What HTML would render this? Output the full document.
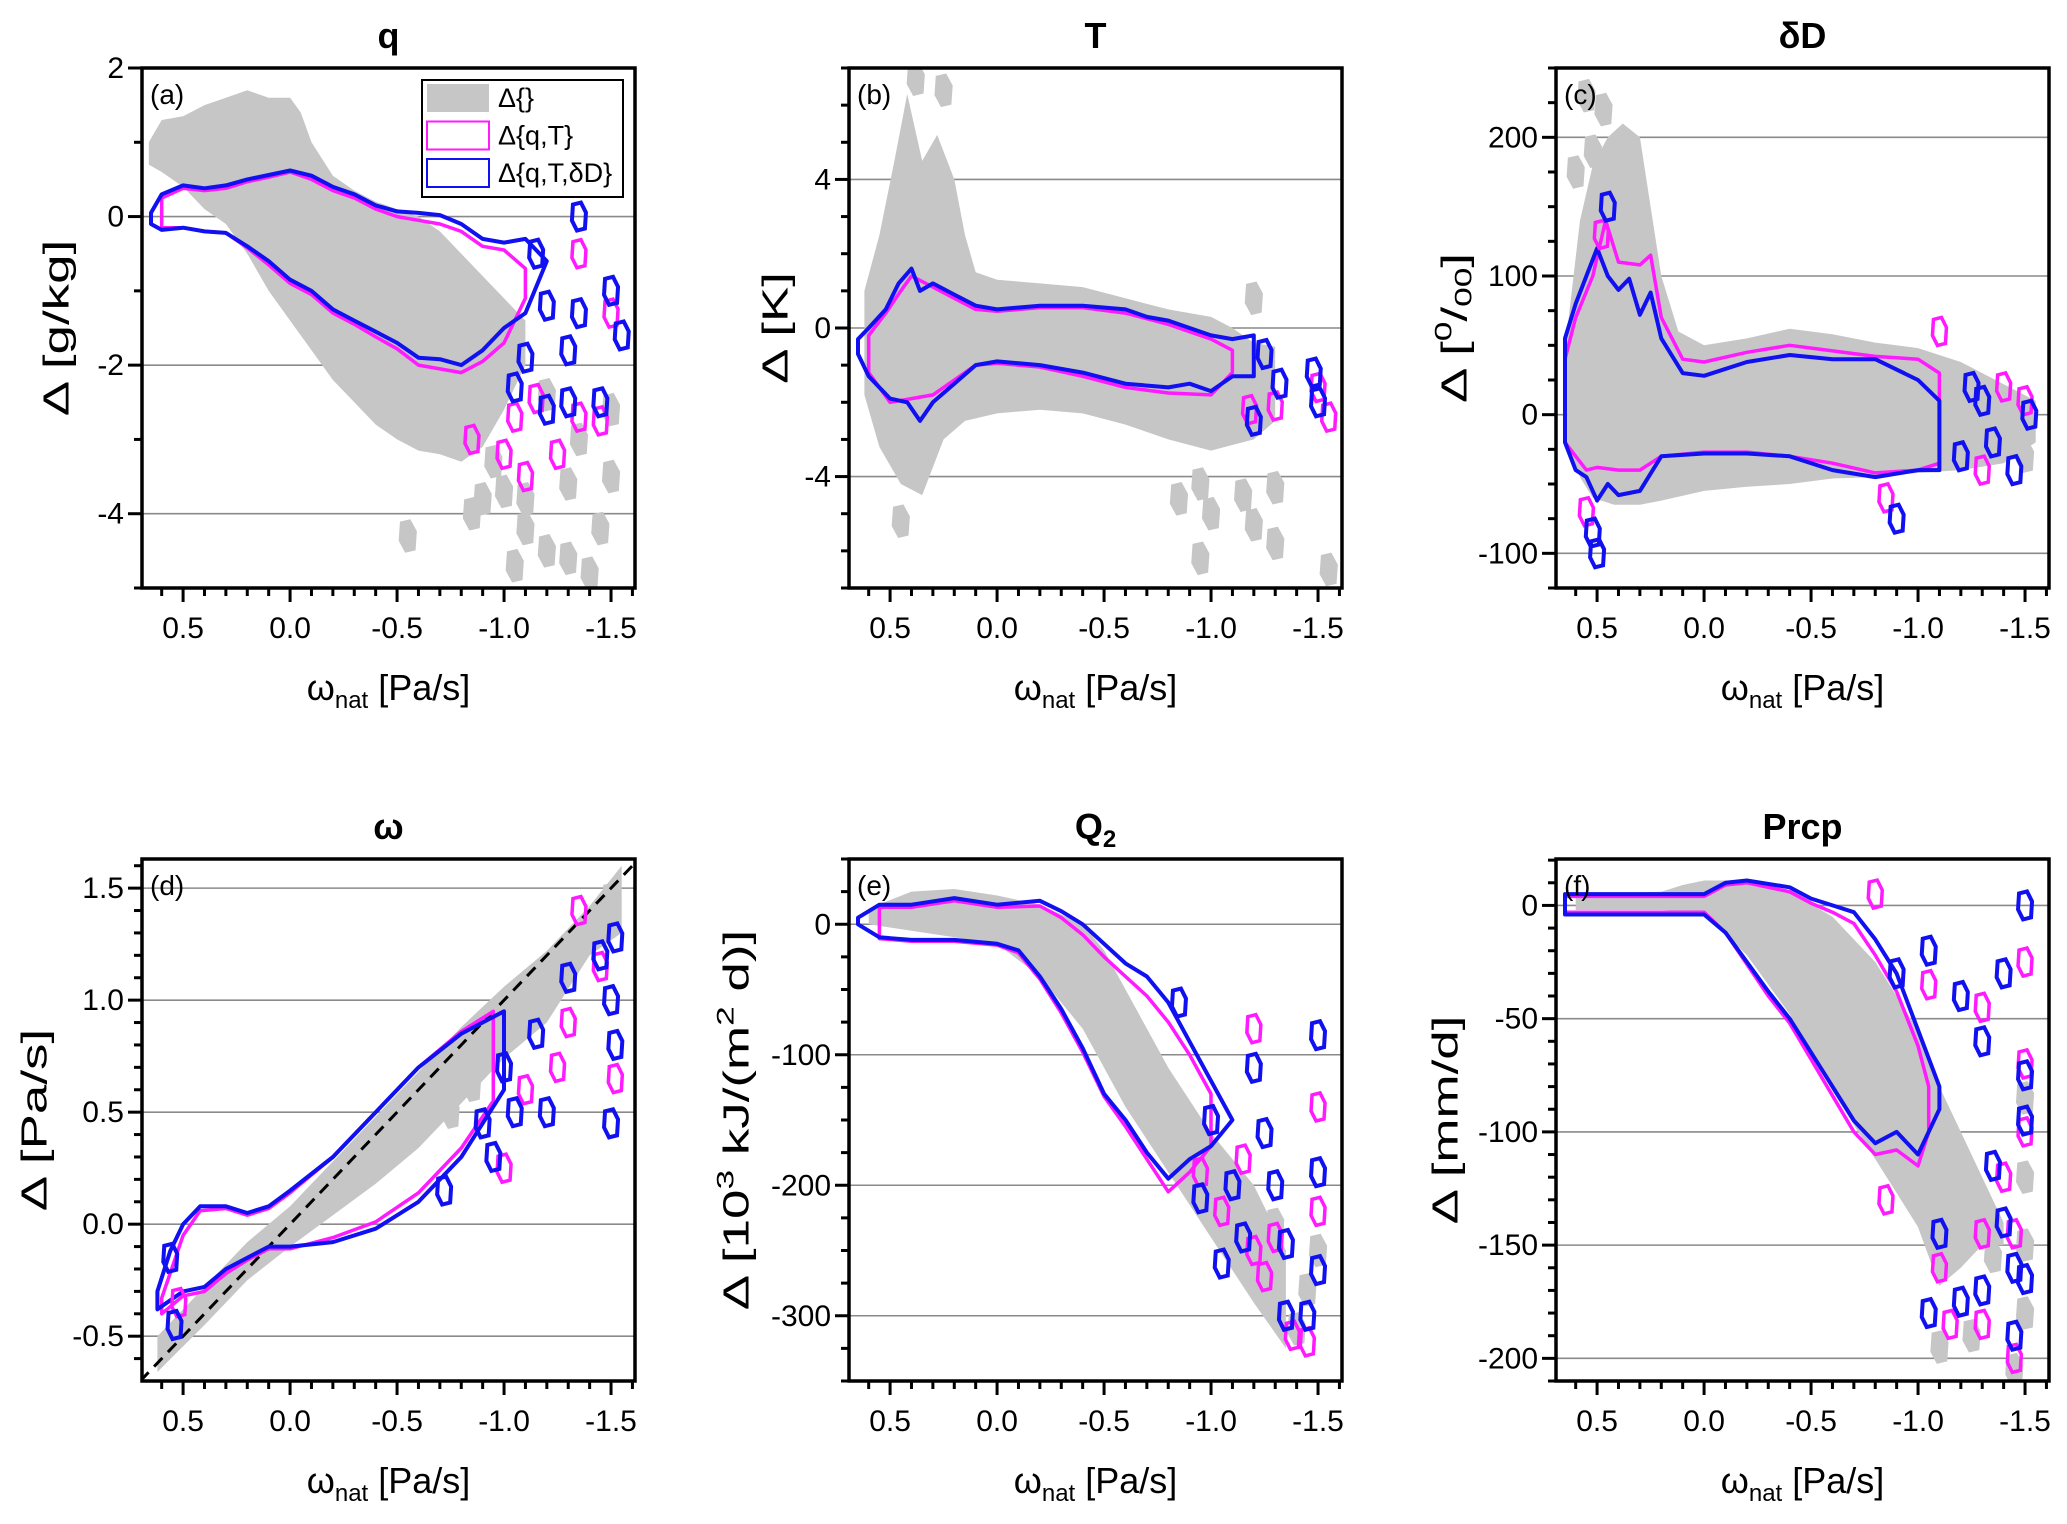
<!DOCTYPE html>
<html><head><meta charset="utf-8"><style>
html,body{margin:0;padding:0;background:#fff;}
svg{display:block;font-family:"Liberation Sans",Arial,sans-serif;}
</style></head><body>
<svg id="fig" width="2067" height="1524" viewBox="0 0 2067 1524" xmlns="http://www.w3.org/2000/svg"></svg>
<script>
// ---------------- data (omega_nat [Pa/s], delta) ----------------
// panel a: q
const qGrayUp=[[0.66,1.0],[0.6,1.3],[0.5,1.35],[0.4,1.5],[0.3,1.6],[0.2,1.7],[0.1,1.6],[0.0,1.6],[-0.05,1.4],[-0.1,1.0],[-0.2,0.55],[-0.3,0.35],[-0.4,0.2],[-0.5,0.1],[-0.6,0.0],[-0.7,-0.2],[-0.8,-0.5],[-0.9,-0.8],[-1.0,-1.1],[-1.1,-1.4]];
const qGrayLo=[[0.66,0.7],[0.6,0.6],[0.5,0.4],[0.4,0.1],[0.3,-0.1],[0.2,-0.5],[0.1,-1.0],[0.0,-1.4],[-0.1,-1.8],[-0.2,-2.2],[-0.3,-2.5],[-0.4,-2.8],[-0.5,-3.0],[-0.6,-3.15],[-0.7,-3.2],[-0.8,-3.3],[-0.9,-3.1],[-1.0,-2.6],[-1.1,-2.0]];
const qBlueUp=[[0.65,0.05],[0.6,0.3],[0.5,0.42],[0.4,0.38],[0.3,0.42],[0.2,0.5],[0.1,0.56],[0.0,0.62],[-0.1,0.55],[-0.2,0.4],[-0.3,0.3],[-0.4,0.15],[-0.5,0.07],[-0.6,0.05],[-0.7,0.02],[-0.8,-0.1],[-0.9,-0.3],[-1.0,-0.35],[-1.1,-0.3],[-1.2,-0.6]];
const qBlueLo=[[0.65,-0.1],[0.6,-0.18],[0.5,-0.15],[0.4,-0.2],[0.3,-0.22],[0.2,-0.4],[0.1,-0.6],[0.0,-0.85],[-0.1,-1.0],[-0.2,-1.25],[-0.3,-1.4],[-0.4,-1.55],[-0.5,-1.7],[-0.6,-1.9],[-0.7,-1.92],[-0.8,-2.0],[-0.9,-1.8],[-1.0,-1.5],[-1.1,-1.3],[-1.2,-0.6]];
const qMagUp=[[0.6,0.25],[0.5,0.38],[0.4,0.35],[0.3,0.38],[0.2,0.47],[0.1,0.53],[0.0,0.6],[-0.1,0.5],[-0.2,0.35],[-0.3,0.25],[-0.4,0.1],[-0.5,0.0],[-0.6,-0.05],[-0.7,-0.1],[-0.8,-0.2],[-0.9,-0.4],[-1.0,-0.45],[-1.1,-0.7]];
const qMagLo=[[0.6,-0.15],[0.5,-0.15],[0.4,-0.2],[0.3,-0.22],[0.2,-0.42],[0.1,-0.65],[0.0,-0.9],[-0.1,-1.05],[-0.2,-1.3],[-0.3,-1.45],[-0.4,-1.62],[-0.5,-1.78],[-0.6,-2.0],[-0.7,-2.05],[-0.8,-2.1],[-0.9,-1.95],[-1.0,-1.7],[-1.1,-1.1]];
const qGrayBlobs=[[-1.0,-3.7],[-1.1,-4.2],[-1.2,-4.5],[-1.3,-4.6],[-1.45,-4.2],[-1.5,-3.5],[-1.1,-3.8],[-0.9,-3.8],[-1.35,-3.0],[-1.5,-2.6],[-1.2,-2.4],[-0.85,-4.0],[-0.55,-4.3],[-1.05,-4.7],[-1.4,-4.8],[-1.3,-3.6],[-0.95,-3.3]];
const qBlueBlobs=[[-1.1,-1.9],[-1.05,-2.3],[-1.2,-2.6],[-1.3,-2.5],[-1.45,-2.5],[-1.35,-1.3],[-1.5,-1.0],[-1.55,-1.6],[-1.3,-1.8],[-1.2,-1.2],[-1.35,0.0],[-1.15,-0.5]];
const qMagBlobs=[[-1.0,-3.2],[-1.1,-3.5],[-1.25,-3.2],[-1.35,-2.7],[-1.45,-2.75],[-1.5,-1.3],[-1.15,-2.45],[-0.85,-3.0],[-1.35,-0.5],[-1.05,-2.7]];
// panel b: T
const tGrayUp=[[0.62,1.0],[0.55,2.5],[0.48,4.5],[0.42,6.3],[0.35,4.5],[0.28,5.2],[0.2,4.0],[0.15,2.5],[0.1,1.5],[0.0,1.3],[-0.2,1.2],[-0.4,1.1],[-0.6,0.8],[-0.8,0.5],[-1.0,0.3],[-1.1,0.0],[-1.2,-0.4],[-1.3,-0.5]];
const tGrayLo=[[0.62,-1.8],[0.55,-3.2],[0.45,-4.2],[0.35,-4.5],[0.25,-3.0],[0.15,-2.5],[0.0,-2.3],[-0.2,-2.2],[-0.4,-2.3],[-0.6,-2.6],[-0.8,-3.0],[-1.0,-3.3],[-1.2,-3.0],[-1.3,-2.5]];
const tBlueUp=[[0.65,-0.3],[0.6,0.0],[0.52,0.5],[0.46,1.2],[0.4,1.6],[0.36,1.0],[0.3,1.2],[0.2,0.9],[0.1,0.6],[0.0,0.5],[-0.2,0.6],[-0.4,0.6],[-0.6,0.5],[-0.7,0.3],[-0.8,0.2],[-0.9,0.0],[-1.0,-0.2],[-1.1,-0.3],[-1.2,-0.2]];
const tBlueLo=[[0.65,-0.7],[0.6,-1.3],[0.5,-1.9],[0.42,-2.0],[0.36,-2.5],[0.3,-2.0],[0.2,-1.5],[0.1,-1.0],[0.0,-0.9],[-0.2,-1.0],[-0.4,-1.2],[-0.6,-1.5],[-0.8,-1.6],[-0.9,-1.5],[-1.0,-1.7],[-1.1,-1.3],[-1.2,-1.3]];
const tMagUp=[[0.6,-0.2],[0.52,0.4],[0.45,1.0],[0.4,1.4],[0.3,1.1],[0.2,0.8],[0.1,0.5],[0.0,0.45],[-0.2,0.55],[-0.4,0.55],[-0.6,0.4],[-0.8,0.1],[-0.9,-0.1],[-1.0,-0.3],[-1.1,-0.6]];
const tMagLo=[[0.6,-1.2],[0.5,-2.0],[0.4,-1.9],[0.3,-1.8],[0.2,-1.4],[0.1,-1.0],[0.0,-0.95],[-0.2,-1.05],[-0.4,-1.3],[-0.6,-1.6],[-0.8,-1.75],[-1.0,-1.8],[-1.1,-1.2]];
const tGrayBlobs=[[-1.15,-4.5],[-1.2,-5.3],[-1.3,-5.8],[-1.55,-6.5],[-1.0,-5.0],[-0.95,-4.2],[-1.3,-4.3],[-1.2,0.8],[0.38,6.7],[0.25,6.4],[-0.95,-6.2],[0.45,-5.2],[-0.85,-4.6]];
const tBlueBlobs=[[-1.2,-2.5],[-1.32,-1.5],[-1.5,-2.0],[-1.25,-0.7],[-1.48,-1.2]];
const tMagBlobs=[[-1.3,-2.1],[-1.55,-2.4],[-1.18,-2.2],[-1.5,-1.6]];
// panel c: dD
const cGrayUp=[[0.64,60],[0.58,140],[0.52,180],[0.45,200],[0.38,210],[0.3,200],[0.25,150],[0.2,100],[0.12,60],[0.0,50],[-0.2,55],[-0.4,62],[-0.6,58],[-0.8,52],[-1.0,48],[-1.2,38],[-1.4,22],[-1.55,10]];
const cGrayLo=[[0.64,-20],[0.58,-45],[0.52,-60],[0.42,-65],[0.3,-65],[0.2,-62],[0.0,-55],[-0.2,-52],[-0.4,-50],[-0.6,-46],[-0.8,-45],[-1.0,-42],[-1.2,-40],[-1.4,-35],[-1.55,-20]];
const cBlueUp=[[0.65,55],[0.6,80],[0.55,100],[0.5,120],[0.45,100],[0.4,90],[0.35,98],[0.3,72],[0.25,88],[0.2,55],[0.1,30],[0.0,28],[-0.2,38],[-0.4,43],[-0.6,40],[-0.8,40],[-1.0,25],[-1.1,10]];
const cBlueLo=[[0.65,-20],[0.6,-40],[0.55,-45],[0.5,-62],[0.45,-50],[0.4,-58],[0.3,-55],[0.2,-30],[0.0,-28],[-0.2,-28],[-0.4,-30],[-0.6,-40],[-0.8,-45],[-1.0,-40],[-1.1,-40]];
const cMagUp=[[0.65,40],[0.6,70],[0.52,100],[0.46,140],[0.4,110],[0.3,108],[0.25,115],[0.2,70],[0.1,40],[0.0,38],[-0.2,45],[-0.4,50],[-0.6,46],[-0.8,42],[-1.0,40],[-1.1,30]];
const cMagLo=[[0.65,-20],[0.55,-40],[0.5,-38],[0.4,-40],[0.3,-40],[0.2,-30],[0.0,-27],[-0.2,-27],[-0.4,-30],[-0.6,-35],[-0.8,-42],[-1.0,-40],[-1.1,-35]];
const cGrayBlobs=[[0.55,230],[0.47,220],[0.52,190],[0.6,175],[-1.5,-30]];
const cBlueBlobs=[[0.45,150],[0.52,-85],[0.5,-100],[-1.35,-20],[-1.2,-30],[-1.3,10],[-1.52,0],[-1.45,-40],[-0.9,-75],[-1.25,20]];
const cMagBlobs=[[0.48,130],[0.55,-70],[-1.4,20],[-1.5,10],[-0.85,-60],[-1.1,60],[-1.3,-40]];
// panel d: omega
const dGrayUp=[[0.62,-0.5],[0.4,-0.28],[0.2,-0.08],[0.0,0.08],[-0.2,0.28],[-0.4,0.48],[-0.6,0.68],[-0.8,0.88],[-1.0,1.06],[-1.2,1.22],[-1.4,1.42],[-1.55,1.6]];
const dGrayLo=[[0.62,-0.66],[0.4,-0.45],[0.2,-0.25],[0.0,-0.1],[-0.2,0.04],[-0.4,0.18],[-0.6,0.34],[-0.8,0.54],[-1.0,0.74],[-1.2,0.9],[-1.4,1.2],[-1.55,1.3]];
const dBlueUp=[[0.62,-0.3],[0.56,-0.12],[0.5,0.0],[0.42,0.08],[0.3,0.08],[0.2,0.05],[0.1,0.08],[0.0,0.15],[-0.2,0.3],[-0.4,0.5],[-0.6,0.7],[-0.8,0.85],[-0.9,0.9],[-1.0,0.95]];
const dBlueLo=[[0.62,-0.38],[0.5,-0.3],[0.4,-0.28],[0.3,-0.2],[0.2,-0.15],[0.1,-0.1],[0.0,-0.1],[-0.2,-0.08],[-0.4,-0.02],[-0.6,0.1],[-0.8,0.3],[-0.9,0.45],[-1.0,0.6]];
const dMagUp=[[0.6,-0.33],[0.5,-0.05],[0.42,0.06],[0.3,0.07],[0.2,0.04],[0.1,0.07],[0.0,0.14],[-0.2,0.3],[-0.4,0.5],[-0.6,0.7],[-0.8,0.86],[-0.95,0.95]];
const dMagLo=[[0.6,-0.4],[0.5,-0.32],[0.4,-0.3],[0.3,-0.22],[0.2,-0.16],[0.1,-0.11],[0.0,-0.11],[-0.2,-0.06],[-0.4,0.01],[-0.6,0.14],[-0.8,0.34],[-0.95,0.55]];
const dGrayBlobs=[[-0.75,0.5],[-0.85,0.62],[-1.5,1.45]];
const dBlueBlobs=[[-1.0,0.7],[-0.9,0.45],[-1.05,0.5],[-1.15,0.85],[-1.3,1.1],[-1.45,1.2],[-1.52,1.28],[-1.5,1.0],[-1.52,0.8],[-1.5,0.45],[0.56,-0.15],[0.54,-0.45],[-0.72,0.15],[-1.2,0.5],[-0.95,0.3]];
const dMagBlobs=[[-1.35,1.4],[-1.1,0.6],[-1.25,0.7],[-1.52,0.65],[-1.45,1.15],[0.52,-0.35],[-1.0,0.25],[-1.3,0.9]];
// panel e: Q2
const eGrayUp=[[0.6,12],[0.4,25],[0.2,27],[0.0,22],[-0.2,15],[-0.4,0],[-0.5,-20],[-0.6,-50],[-0.8,-110],[-1.0,-160],[-1.2,-200],[-1.35,-250]];
const eGrayLo=[[0.6,0],[0.4,-5],[0.2,-10],[0.0,-15],[-0.2,-40],[-0.4,-80],[-0.5,-110],[-0.6,-140],[-0.8,-190],[-1.0,-240],[-1.2,-290],[-1.35,-325]];
const eBlueUp=[[0.65,5],[0.55,15],[0.4,15],[0.2,20],[0.0,15],[-0.2,18],[-0.3,10],[-0.4,0],[-0.5,-15],[-0.6,-30],[-0.7,-40],[-0.8,-60],[-0.9,-90],[-1.0,-120],[-1.1,-150]];
const eBlueLo=[[0.65,0],[0.55,-10],[0.4,-12],[0.2,-12],[0.0,-15],[-0.1,-20],[-0.2,-40],[-0.3,-65],[-0.4,-95],[-0.5,-130],[-0.6,-150],[-0.7,-175],[-0.8,-195],[-0.9,-180],[-1.0,-170],[-1.1,-150]];
const eMagUp=[[0.55,13],[0.4,13],[0.2,18],[0.0,13],[-0.2,14],[-0.3,5],[-0.4,-8],[-0.5,-25],[-0.6,-40],[-0.7,-55],[-0.8,-75],[-0.9,-100],[-1.0,-130]];
const eMagLo=[[0.55,-11],[0.4,-13],[0.2,-13],[0.0,-16],[-0.1,-22],[-0.2,-42],[-0.3,-68],[-0.4,-98],[-0.5,-132],[-0.6,-155],[-0.7,-180],[-0.8,-205],[-0.9,-190],[-1.0,-170]];
const eGrayBlobs=[[-1.45,-280],[-1.5,-250],[-1.3,-230],[-1.4,-310]];
const eBlueBlobs=[[-1.0,-150],[-1.1,-200],[-1.15,-240],[-1.25,-160],[-1.3,-200],[-1.5,-190],[-1.5,-265],[-1.45,-300],[-1.35,-300],[-0.95,-210],[-1.2,-110],[-1.5,-85],[-1.35,-245],[-0.85,-60],[-1.05,-260]];
const eMagBlobs=[[-1.05,-220],[-1.2,-250],[-1.3,-240],[-1.25,-270],[-1.38,-315],[-1.45,-320],[-1.5,-220],[-1.5,-140],[-1.2,-80],[-1.15,-180],[-0.95,-190]];
// panel f: Prcp
const fGrayUp=[[0.6,5],[0.2,6],[0.1,9],[0.0,11],[-0.2,11],[-0.4,6],[-0.6,-5],[-0.8,-25],[-1.0,-55],[-1.1,-80],[-1.2,-100],[-1.3,-120],[-1.4,-140]];
const fGrayLo=[[0.6,-2],[0.2,-2],[0.0,-3],[-0.2,-22],[-0.4,-48],[-0.6,-82],[-0.8,-112],[-1.0,-142],[-1.1,-168],[-1.2,-160],[-1.3,-150],[-1.4,-150]];
const fBlueUp=[[0.65,5],[0.0,5],[-0.1,10],[-0.2,11],[-0.4,8],[-0.5,3],[-0.6,0],[-0.7,-3],[-0.8,-15],[-0.9,-30],[-1.0,-55],[-1.1,-80]];
const fBlueLo=[[0.65,-4],[0.0,-4],[-0.1,-12],[-0.2,-25],[-0.3,-38],[-0.4,-50],[-0.5,-65],[-0.6,-80],[-0.7,-95],[-0.8,-105],[-0.9,-100],[-1.0,-110],[-1.1,-90]];
const fMagUp=[[0.65,4],[0.0,4],[-0.1,9],[-0.2,10],[-0.4,6],[-0.5,1],[-0.6,-3],[-0.7,-8],[-0.8,-22],[-0.9,-38],[-1.0,-62],[-1.05,-80]];
const fMagLo=[[0.65,-3],[0.0,-3],[-0.1,-12],[-0.2,-26],[-0.3,-40],[-0.4,-52],[-0.5,-68],[-0.6,-84],[-0.7,-100],[-0.8,-110],[-0.9,-108],[-1.0,-115],[-1.05,-100]];
const fGrayBlobs=[[-1.5,-85],[-1.5,-120],[-1.5,-150],[-1.5,-180],[-1.25,-190],[-1.35,-155],[-1.1,-195],[-1.45,-205]];
const fBlueBlobs=[[-0.9,-30],[-1.05,-20],[-1.2,-40],[-1.3,-60],[-1.4,-30],[-1.5,-75],[-1.5,-95],[-1.4,-140],[-1.45,-160],[-1.5,-165],[-1.3,-170],[-1.2,-175],[-1.05,-180],[-1.45,-190],[-1.5,0],[-1.35,-115],[-1.1,-145]];
const fMagBlobs=[[-0.8,5],[-1.05,-35],[-1.3,-45],[-1.5,-25],[-1.5,-70],[-1.5,-100],[-1.45,-145],[-1.3,-145],[-1.15,-185],[-1.3,-185],[-1.45,-200],[-1.4,-120],[-1.1,-160],[-0.85,-130]];

// axis config
const xTicks=[0.5,0.0,-0.5,-1.0,-1.5];
const xTickLabels=["0.5","0.0","-0.5","-1.0","-1.5"];
const panelLetters=["(a)","(b)","(c)","(d)","(e)","(f)"];
const yDomains=[[-5,2],[-7,7],[-125,250],[-0.7,1.63],[-350,50],[-210,20.5]];
const yMajor=[[-4,-2,0,2],[-4,0,4],[-100,0,100,200],[-0.5,0,0.5,1.0,1.5],[-300,-200,-100,0],[-200,-150,-100,-50,0]];
const yMajorLabels=[["-4","-2","0","2"],["-4","0","4"],["-100","0","100","200"],["-0.5","0.0","0.5","1.0","1.5"],["-300","-200","-100","0"],["-200","-150","-100","-50","0"]];
const yMinorStep=[1,1,25,0.1,25,10];

const NS="http://www.w3.org/2000/svg";
const svg=document.getElementById('fig');
function mk(tag,attrs,parent){const e=document.createElementNS(NS,tag);for(const k in attrs)e.setAttribute(k,attrs[k]);(parent||svg).appendChild(e);return e;}

const colL=[142,849,1556], rowT=[68,859], W=493, H=[520,522];
const X0=0.692, X1=-1.612;
const titles=["q","T","δD","ω","Q2","Prcp"];
const ylabX=[[59,778,1457],[37,739,1448]];

const panels=[
 {gu:qGrayUp,gl:qGrayLo,bu:qBlueUp,bl:qBlueLo,mu:qMagUp,ml:qMagLo,gb:qGrayBlobs,bb:qBlueBlobs,mb:qMagBlobs},
 {gu:tGrayUp,gl:tGrayLo,bu:tBlueUp,bl:tBlueLo,mu:tMagUp,ml:tMagLo,gb:tGrayBlobs,bb:tBlueBlobs,mb:tMagBlobs},
 {gu:cGrayUp,gl:cGrayLo,bu:cBlueUp,bl:cBlueLo,mu:cMagUp,ml:cMagLo,gb:cGrayBlobs,bb:cBlueBlobs,mb:cMagBlobs},
 {gu:dGrayUp,gl:dGrayLo,bu:dBlueUp,bl:dBlueLo,mu:dMagUp,ml:dMagLo,gb:dGrayBlobs,bb:dBlueBlobs,mb:dMagBlobs},
 {gu:eGrayUp,gl:eGrayLo,bu:eBlueUp,bl:eBlueLo,mu:eMagUp,ml:eMagLo,gb:eGrayBlobs,bb:eBlueBlobs,mb:eMagBlobs},
 {gu:fGrayUp,gl:fGrayLo,bu:fBlueUp,bl:fBlueLo,mu:fMagUp,ml:fMagLo,gb:fGrayBlobs,bb:fBlueBlobs,mb:fMagBlobs}
];
const hex=[[-6,-12],[2,-14],[7,-4],[6,12],[-2,14],[-7,4]];

panels.forEach((p,i)=>{
  const r=Math.floor(i/3), c=i%3;
  const L=colL[c], T=rowT[r], h=H[r], B=T+h, R=L+W;
  const [y0,y1]=yDomains[i];
  const sx=v=>L+(X0-v)/(X0-X1)*W;
  const sy=v=>B-(v-y0)/(y1-y0)*h;
  const g=mk('g',{});
  
  
  const defs=mk('defs',{},g);
  const cp=mk('clipPath',{id:'clip'+i},defs);
  mk('rect',{x:L,y:T,width:W,height:h},cp);
  yMajor[i].forEach(v=>{
    const gl=mk('line',{x1:L,x2:R,y1:sy(v),y2:sy(v),stroke:'#8a8a8a','stroke-width':1.6},g);
    
    
  });
  const pg=mk('g',{'clip-path':'url(#clip'+i+')'},g);
  const toPts=a=>a.map(d=>sx(d[0]).toFixed(1)+','+sy(d[1]).toFixed(1));
  const band=(up,lo)=>toPts(up).concat(toPts(lo.slice().reverse())).join(' ');
  const gray=mk('polygon',{points:band(p.gu,p.gl),fill:'#c6c6c6'},pg);
  
  
  p.gb.forEach(d=>{
    const e=mk('polygon',{points:hex.map(q=>(sx(d[0])+q[0]*1.3)+','+(sy(d[1])+q[1]*1.2)).join(' '),fill:'#c6c6c6'},pg);
    
    
  });
  if(i===3){
    const dl=mk('line',{x1:sx(0.7),y1:sy(-0.7),x2:sx(-1.63),y2:sy(1.63),stroke:'#000','stroke-width':3,'stroke-dasharray':'12,8'},pg);
    
    
  }
  const mc=mk('polygon',{points:band(p.mu,p.ml),fill:'none',stroke:'#ff1aff','stroke-width':3.5,'stroke-linejoin':'round'},pg);
  
  
  const bc=mk('polygon',{points:band(p.bu,p.bl),fill:'none',stroke:'#1010f0','stroke-width':4,'stroke-linejoin':'round'},pg);
  
  
  p.mb.forEach(d=>{
    const e=mk('polygon',{points:hex.map(q=>(sx(d[0])+q[0])+','+(sy(d[1])+q[1])).join(' '),fill:'none',stroke:'#ff1aff','stroke-width':3.5},pg);
    
    
  });
  p.bb.forEach(d=>{
    const e=mk('polygon',{points:hex.map(q=>(sx(d[0])+q[0])+','+(sy(d[1])+q[1])).join(' '),fill:'none',stroke:'#1010f0','stroke-width':4},pg);
    
    
  });
  const fr=mk('rect',{x:L,y:T,width:W,height:h,fill:'none',stroke:'#000','stroke-width':3.5},g);
  
  
  for(let k=-16;k<=6;k++){
    const v=k/10; const x=sx(v); if(x<L-1||x>R+1) continue;
    const major=(k%5===0);
    mk('line',{x1:x,x2:x,y1:B,y2:B+(major?14:8),stroke:'#000','stroke-width':3},g);
  }
  xTicks.forEach((v,j)=>{
    const t=mk('text',{x:sx(v),y:B+50,'font-size':30,'text-anchor':'middle'},g);
    t.textContent=xTickLabels[j];
    
    
  });
  const st=yMinorStep[i];
  for(let k=Math.ceil(y0/st);k*st<=y1+1e-9;k++){
    const v=k*st; const y=sy(v);
    const major=yMajor[i].some(m=>Math.abs(m-v)<1e-6);
    mk('line',{x1:L-(major?14:8),x2:L,y1:y,y2:y,stroke:'#000','stroke-width':3},g);
  }
  yMajor[i].forEach((v,j)=>{
    const t=mk('text',{x:L-18,y:sy(v)+10,'font-size':30,'text-anchor':'end'},g);
    t.textContent=yMajorLabels[i][j];
    
    
  });
  const pl=mk('text',{x:L+8,y:T+36,'font-size':28},g);
  pl.textContent=panelLetters[i];
  
  
  const tt=mk('text',{x:L+W/2,y:T-20,'font-size':36,'font-weight':'bold','text-anchor':'middle'},g);
  
  
  if(i===4){tt.innerHTML='Q<tspan font-size="24" dy="8">2</tspan>';}
  else tt.textContent=titles[i];
  const xt=mk('text',{x:L+W/2,y:B+112,'font-size':36,'text-anchor':'middle'},g);
  xt.innerHTML='ω<tspan font-size="24" dy="8">nat</tspan><tspan dy="-8"> [Pa/s]</tspan>';
  
  
  // y axis title (stretched along its length like the reference)
  const cx=ylabX[r][c], cy=T+h/2;
  const yt=mk('text',{x:0,y:0,'font-size':36,'text-anchor':'middle','dominant-baseline':'middle',transform:'translate('+cx+' '+cy+') rotate(-90) scale(1.47 1)'},g);
  
  
  const yl=['Δ [g/kg]','Δ [K]',null,'Δ [Pa/s]',null,'Δ [mm/d]'][i];
  if(yl) yt.textContent=yl;
  else if(i===2) yt.innerHTML='Δ [<tspan font-size="24" dy="-12">0</tspan><tspan dy="12">/</tspan><tspan font-size="24" dy="8">00</tspan><tspan dy="-8">]</tspan>';
  else yt.innerHTML='Δ [10<tspan font-size="24" dy="-12">3</tspan><tspan dy="12"> kJ/(m</tspan><tspan font-size="24" dy="-12">2</tspan><tspan dy="12"> d)]</tspan>';
});

const lg=mk('g',{});


mk('rect',{x:422,y:80,width:201,height:117,fill:'#fff',stroke:'#000','stroke-width':2},lg);
const legItems=[['Δ{}','#c6c6c6',true],['Δ{q,T}','#ff1aff',false],['Δ{q,T,δD}','#1010f0',false]];
legItems.forEach((it,j)=>{
  const cy=98+j*37.5;
  const sw=mk('rect',{x:427,y:cy-14,width:62,height:28,fill:it[2]?it[1]:'none',stroke:it[2]?'none':it[1],'stroke-width':2},lg);
  
  
  const t=mk('text',{x:498,y:cy+9,'font-size':27},lg);
  t.textContent=it[0];
  
  
});
</script>
</body></html>
